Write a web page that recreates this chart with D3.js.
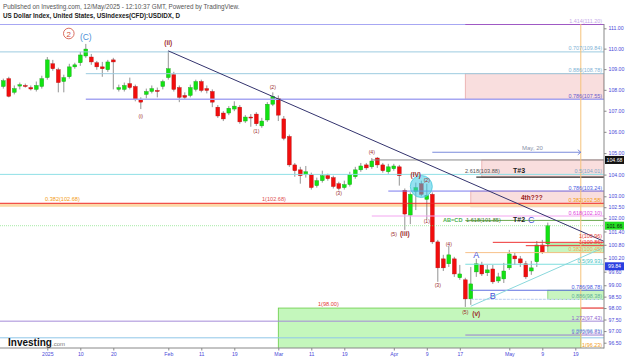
<!DOCTYPE html>
<html>
<head>
<meta charset="utf-8">
<script src="https://cdn.jsdelivr.net/npm/d3@7"></script>
<style>
body { margin: 0; background: #fff; }
svg { font-family: "Liberation Sans", Arial, sans-serif; }
</style>
</head>
<body>
<script>
// daily candles, USDIDX CFD
var candleDates = [
  "2024-12-19","2024-12-20","2024-12-23","2024-12-24","2024-12-26","2024-12-27","2024-12-30","2024-12-31",
  "2025-01-02","2025-01-03","2025-01-06","2025-01-07","2025-01-08","2025-01-09","2025-01-10","2025-01-13","2025-01-14","2025-01-15","2025-01-16","2025-01-17",
  "2025-01-20","2025-01-21","2025-01-22","2025-01-23","2025-01-24","2025-01-27","2025-01-28","2025-01-29","2025-01-30","2025-01-31",
  "2025-02-03","2025-02-04","2025-02-05","2025-02-06","2025-02-07","2025-02-10","2025-02-11","2025-02-12","2025-02-13","2025-02-14",
  "2025-02-17","2025-02-18","2025-02-19","2025-02-20","2025-02-21","2025-02-24","2025-02-25","2025-02-26","2025-02-27","2025-02-28",
  "2025-03-03","2025-03-04","2025-03-05","2025-03-06","2025-03-07","2025-03-10","2025-03-11","2025-03-12","2025-03-13","2025-03-14",
  "2025-03-17","2025-03-18","2025-03-19","2025-03-20","2025-03-21","2025-03-24","2025-03-25","2025-03-26","2025-03-27","2025-03-28","2025-03-31",
  "2025-04-01","2025-04-02","2025-04-03","2025-04-04","2025-04-07","2025-04-08","2025-04-09","2025-04-10","2025-04-11",
  "2025-04-14","2025-04-15","2025-04-16","2025-04-17","2025-04-21","2025-04-22","2025-04-23","2025-04-24","2025-04-25","2025-04-28","2025-04-29","2025-04-30",
  "2025-05-01","2025-05-02","2025-05-05","2025-05-06","2025-05-07","2025-05-08","2025-05-09","2025-05-12"
];
var futureDates = ["2025-05-13","2025-05-14","2025-05-15","2025-05-16","2025-05-19","2025-05-20","2025-05-21","2025-05-22","2025-05-23","2025-05-26","2025-05-27"];

var open = [
  108.16,108.54,107.88,108.18,108.21,108.11,108.02,108.16,
  108.59,109.26,108.97,108.40,108.63,109.11,109.31,109.64,109.59,109.31,109.11,108.97,
  109.45,108.02,108.02,108.30,108.16,107.55,107.78,107.92,107.97,108.16,
  108.59,108.73,108.11,107.73,107.73,108.02,108.40,108.06,107.92,107.17,
  106.89,106.89,107.08,107.17,106.51,106.70,106.84,106.28,106.56,107.31,
  107.59,106.61,105.78,104.45,104.22,104.00,104.00,103.49,103.72,103.95,
  103.86,103.58,103.40,103.54,103.90,104.22,104.45,104.36,104.77,104.45,104.13,
  104.27,104.36,103.27,102.14,103.22,103.58,102.86,103.09,100.93,
  100.17,99.95,100.17,99.33,99.24,98.40,99.59,99.90,99.55,99.72,99.19,99.28,
  99.77,100.30,100.17,99.95,99.63,100.04,100.79,100.84
];
var high = [
  108.54,108.63,108.21,108.35,108.30,108.21,108.40,108.68,
  109.59,109.45,109.07,108.73,109.26,109.31,109.84,110.23,109.74,109.40,109.35,109.45,
  109.55,108.25,108.35,108.59,108.25,107.64,108.06,108.21,108.11,108.49,
  109.89,108.87,108.21,107.88,108.25,108.49,108.49,108.21,108.02,107.27,
  106.98,107.22,107.45,107.27,106.79,106.84,106.93,106.66,107.41,107.88,
  107.73,106.75,105.87,104.54,104.36,104.40,104.09,103.86,104.18,104.04,
  103.95,103.67,103.72,104.13,104.36,104.54,104.54,104.77,104.82,104.54,104.50,
  104.50,104.45,103.36,103.18,103.63,103.72,103.58,103.18,101.02,
  100.35,100.75,100.26,99.90,99.33,99.81,100.17,100.04,99.90,99.90,99.55,99.99,
  100.57,100.44,100.30,100.08,100.08,100.97,101.02,101.80
];
var low = [
  108.06,107.64,107.78,108.02,108.11,107.97,107.92,108.06,
  108.49,108.92,107.88,107.88,108.54,109.02,109.16,109.55,109.21,108.97,108.63,108.87,
  108.02,107.92,107.92,108.02,107.45,107.08,107.59,107.83,107.64,108.02,
  108.49,107.92,107.41,107.55,107.64,107.92,107.88,107.83,107.17,106.66,
  106.51,106.79,106.98,106.38,106.42,106.24,106.28,106.19,106.47,107.22,
  106.51,105.60,104.36,103.90,103.58,103.86,103.31,103.40,103.63,103.72,
  103.36,103.27,103.31,103.45,103.81,104.13,104.22,104.27,104.31,104.09,104.04,
  104.18,103.49,101.47,101.73,102.37,103.00,101.96,100.84,99.15,
  99.63,99.81,99.37,99.24,98.05,98.14,99.37,99.41,99.41,99.06,99.10,99.10,
  99.68,99.90,99.81,99.28,99.46,99.81,100.39,100.70
];
var close = [
  108.44,107.69,108.06,108.25,108.17,108.04,108.21,108.54,
  109.45,109.02,108.35,108.59,109.11,109.21,109.69,109.98,109.35,109.11,109.02,109.35,
  109.35,108.11,108.21,108.11,107.55,107.41,107.92,108.06,107.92,108.40,
  109.02,108.02,107.64,107.64,108.11,108.40,107.97,107.97,107.41,106.75,
  106.61,107.12,107.22,106.47,106.70,106.66,106.38,106.51,107.31,107.69,
  106.79,105.69,104.45,104.18,103.95,104.13,103.40,103.72,103.95,103.81,
  103.45,103.36,103.54,104.00,104.22,104.40,104.31,104.63,104.45,104.18,104.36,
  104.40,103.95,102.19,103.09,103.40,103.09,103.04,100.93,99.77,
  99.77,100.35,99.50,99.50,98.40,99.06,99.95,99.50,99.68,99.15,99.37,99.63,
  100.39,100.17,99.99,99.37,99.77,100.79,100.48,101.66
];

var priceTicks = [111, 110, 109, 108, 107, 106, 105, 104, 103, 102.5, 102, 101.4, 100.8, 100.2, 99.6, 99, 98.5, 98, 97.5, 97, 96.5];
var dateTicks = ["2025-01-02","2025-01-10","2025-01-20","2025-02-03","2025-02-11","2025-02-19","2025-03-03","2025-03-11","2025-03-19","2025-04-01","2025-04-09","2025-04-17","2025-05-01","2025-05-09","2025-05-19"];
var dateTickLabels = ["2025","10","20","Feb","11","19","Mar","11","19","Apr","9","17","May","9","19"];

// drawn levels: price, start date (null = left edge), label
var levelPrices = [111.20, 109.84, 108.78, 107.55, 104.68, 104.01, 103.88, 103.24, 102.68, 102.10, 101.90, 100.91, 100.76, 100.45, 99.93, 98.78, 98.38, 98.00, 97.43, 96.83, 96.71];
var levelStarts = [null, null, "2025-01-13", "2025-01-13", "2025-03-26", null, "2025-04-23", "2025-03-31", null, "2025-03-26", "2025-04-21", "2025-04-28", "2025-05-06", "2025-04-21", "2025-04-21", "2025-04-22", "2025-04-22", "2025-05-20", null, "2025-04-21", null];
var levelLabels = ["1.414(111.20)", "0.707(109.84)", "0.886(108.78)", "0.786(107.55)", "", "0.5(104.01)", "", "0.786(103.24)", "0.382(102.58)", "0.618(102.10)", "", "1(100.96)", "1(100.86)", "0.382(100.45)", "0.5(99.93)", "0.786(98.78)", "0.886(98.38)", "", "1.272(97.43)", "1.272(96.83)", "0.886(96.71)"];

// zones: start date, end date (null = right edge), top price, bottom price
var zoneStarts = ["2025-04-21", "2025-04-24", "2025-04-22", "2025-05-12", "2025-05-12", "2025-03-03"];
var zoneEnds = [null, null, null, null, null, "2025-05-20"];
var zoneTops = [108.78, 104.68, 103.24, 100.84, 98.78, 98.00];
var zoneBottoms = [107.55, 103.88, 102.52, 100.45, 98.38, 95.0];

// trend lines: [date, price] pairs
var trendDown = [["2025-02-03", 109.89], ["2025-05-27", 100.87]];
var trendUp = [["2025-04-22", 98.08], ["2025-05-27", 100.77]];

// Elliott wave labels: text, date, price
var waveText = ["(ii)", "(i)", "(1)", "(2)", "(3)", "(4)", "(IV)", "(2)", "(1)", "(5)", "(iii)", "(3)", "(4)", "(5)", "(v)"];
var waveDates = ["2025-02-03", "2025-01-27", "2025-02-25", "2025-02-28", "2025-03-18", "2025-03-26", "2025-04-07", "2025-04-09", "2025-04-09", "2025-04-01", "2025-04-03", "2025-04-11", "2025-04-15", "2025-04-21", "2025-04-23"];
var wavePrices = [110.20, 106.64, 105.95, 108.03, 103.06, 104.98, 103.88, 103.66, 101.80, 101.20, 101.20, 98.92, 100.73, 97.73, 97.66];

var W = 625, H = 358;
var plotTop = 24, plotBottom = 348, plotRight = 604;

var allDates = candleDates.concat(futureDates);
var x = d3.scalePoint()
          .domain(allDates)
          .range([3.3, 3.3 + 5.5 * (allDates.length - 1)]);
var y = d3.scaleLog()
          .domain([96.5, 111])
          .range([342.7, 28.3]);

var svg = d3.select("body").append("svg")
            .attr("width", W)
            .attr("height", H);

svg.append("defs").append("clipPath").attr("id", "plot")
   .append("rect").attr("x", 0).attr("y", plotTop).attr("width", plotRight).attr("height", plotBottom - plotTop);

// header
svg.append("text").attr("x", 3).attr("y", 8.5)
   .style("font-size", "6.3px").style("fill", "#555")
   .text("Published on Investing.com, 12/May/2025 - 12:10:37 GMT, Powered by TradingView.");
svg.append("text").attr("x", 3).attr("y", 17.5)
   .style("font-size", "6.3px").style("font-weight", "bold").style("fill", "#222")
   .text("US Dollar Index, United States, USIndexes(CFD):USDIDX, D");

var g = svg.append("g").attr("clip-path", "url(#plot)");

function xs(d) { return d == null ? 0 : x(d); }
function xe(d) { return d == null ? plotRight : x(d); }

// zones
var zoneFill = ["#f9dede", "#f9dede", "#f9dede", "#c8f5c0", "#c8f5c0", "#c4f7bc"];
var zoneStroke = ["#e8a8a8", "#e8a8a8", "#e8a8a8", "#7fd36f", "#7fd36f", "#66cc44"];
zoneStarts.forEach(function(d, i) {
  g.append("rect")
   .attr("x", xs(d))
   .attr("y", y(zoneTops[i]))
   .attr("width", xe(zoneEnds[i]) - xs(d))
   .attr("height", y(zoneBottoms[i]) - y(zoneTops[i]))
   .style("fill", zoneFill[i])
   .style("stroke", zoneStroke[i])
   .style("stroke-width", 0.8);
});

// orange band under 1(102.68)
g.append("rect").attr("x", 0).attr("width", plotRight)
 .attr("y", y(102.68)).attr("height", y(102.52) - y(102.68))
 .style("fill", "#fcd9a8");

// candles
var idx = d3.range(candleDates.length);
g.selectAll(".wick").data(idx).enter().append("line")
 .attr("x1", function(i) { return x(candleDates[i]); })
 .attr("x2", function(i) { return x(candleDates[i]); })
 .attr("y1", function(i) { return y(high[i]); })
 .attr("y2", function(i) { return y(low[i]); })
 .style("stroke", "#777").style("stroke-width", 0.8);
g.selectAll(".body").data(idx).enter().append("rect")
 .attr("x", function(i) { return x(candleDates[i]) - 1.9; })
 .attr("width", 3.8)
 .attr("y", function(i) { return y(Math.max(open[i], close[i])); })
 .attr("height", function(i) { return Math.max(1, Math.abs(y(open[i]) - y(close[i]))); })
 .style("fill", function(i) { return close[i] >= open[i] ? "#12e312" : "#f20d0d"; })
 .style("stroke", function(i) { return close[i] >= open[i] ? "#18a018" : "#b01010"; })
 .style("stroke-width", 0.4);

// horizontal levels
var levelColor = ["#8a8af0", "#9ccbe0", "#9ccbe0", "#a6a6f2", "#8a8a8a", "#8fe0e6", "#333333", "#7a7aee", "#ee2a2a", "#f3a6f0", "#6aa84f", "#ee3333", "#ee3333", "#f8c28a", "#7fdede", "#5f6fe0", "#c8d8f4", "#e53935", "#a58ad8", "#9b7fd0", "#8fc6e8"];
var levelWidth = [1, 1, 1, 1.6, 1, 1, 1.3, 1, 1, 1, 1, 1, 1, 1, 1, 1.2, 1.2, 1.2, 1, 1, 1];
var labelColor = ["#c4a8e8", "#7fb3d5", "#7fb3d5", "#6a5acd", "", "#7fa7c8", "", "#4a5ae0", "#f39c12", "#e040e0", "", "#e53935", "#e53935", "#f5a45a", "#3fbfbf", "#4a5ae0", "#5fb09a", "", "#8e5fcf", "#8e5fcf", "#6fa8dc"];
// labels that sit just under their line instead of above it
var labelBelow = [11, 20];
levelPrices.forEach(function(p, i) {
  g.append("line")
   .attr("x1", xs(levelStarts[i])).attr("x2", plotRight)
   .attr("y1", y(p)).attr("y2", y(p))
   .style("stroke", levelColor[i])
   .style("stroke-width", levelWidth[i])
   .style("stroke-dasharray", i === 16 ? "3,1" : null);
  if (levelLabels[i]) {
    var below = labelBelow.indexOf(i) >= 0;
    svg.append("text")
       .attr("x", 602).attr("y", below ? y(p) - 4.8 : y(p) - 1.5)
       .style("text-anchor", "end").style("font-size", "5.4px")
       .style("fill", labelColor[i])
       .text(levelLabels[i]);
  }
});
// purple part of top level
g.append("line").attr("x1", x("2025-04-21")).attr("x2", plotRight)
 .attr("y1", y(111.20)).attr("y2", y(111.20))
 .style("stroke", "#9c3fb5").style("stroke-width", 1.2);

// current price line
g.append("line").attr("x1", 0).attr("x2", plotRight)
 .attr("y1", y(close[close.length - 1])).attr("y2", y(close[close.length - 1]))
 .style("stroke", "#7ee07e").style("stroke-width", 0.7).style("stroke-dasharray", "1,1");

// May 20 vertical and arrow
g.append("line").attr("x1", x("2025-05-20")).attr("x2", x("2025-05-20"))
 .attr("y1", plotTop).attr("y2", plotBottom)
 .style("stroke", "#f6c27a").style("stroke-width", 1);
g.append("line").attr("x1", x("2025-04-10")).attr("x2", x("2025-05-20"))
 .attr("y1", y(105.04)).attr("y2", y(105.04))
 .style("stroke", "#6b7fd7").style("stroke-width", 0.9);
g.append("path")
 .attr("d", "M" + (x("2025-05-20") - 3) + "," + (y(105.04) - 2.5) + "L" + x("2025-05-20") + "," + y(105.04) + "L" + (x("2025-05-20") - 3) + "," + (y(105.04) + 2.5))
 .style("fill", "none").style("stroke", "#6b7fd7").style("stroke-width", 0.9);
svg.append("text").attr("x", 522).attr("y", y(105.04) - 2.5)
   .style("font-size", "6px").style("fill", "#8890a8").text("May, 20");

// trend lines
var line = d3.line().x(function(d) { return x(d[0]); }).y(function(d) { return y(d[1]); });
g.append("path").attr("d", line(trendDown))
 .style("fill", "none").style("stroke", "#33336e").style("stroke-width", 1);
g.append("path").attr("d", line(trendUp))
 .style("fill", "none").style("stroke", "#8ad8dc").style("stroke-width", 1);

// highlight circle
g.append("circle").attr("cx", x("2025-04-08")).attr("cy", y(103.45)).attr("r", 11)
 .style("fill", "#3cc8e6").style("fill-opacity", 0.55)
 .style("stroke", "#48c8dc").style("stroke-width", 0.8);

// wave labels
waveText.forEach(function(t, i) {
  var big = (t === "(IV)" || t === "(iii)" || t === "(v)" || t === "(ii)");
  svg.append("text")
     .attr("x", x(waveDates[i])).attr("y", y(wavePrices[i]))
     .style("text-anchor", "middle")
     .style("font-size", big ? "6.5px" : "5.2px")
     .style("font-weight", big ? "bold" : "normal")
     .style("fill", "#9b2a2a")
     .text(t);
});

// other annotations
function note(t, xp, yp, size, color, weight, anchor) {
  svg.append("text").attr("x", xp).attr("y", yp)
     .style("font-size", size + "px").style("fill", color)
     .style("font-weight", weight || "normal")
     .style("text-anchor", anchor || "start")
     .text(t);
}
svg.append("circle").attr("cx", x("2025-01-08") - 0.5).attr("cy", 33.5).attr("r", 5.3)
   .style("fill", "none").style("stroke", "#d04a3a").style("stroke-width", 0.8);
note("2", x("2025-01-08") - 0.5, 36.5, 8, "#d04a3a", "normal", "middle");
note("(C)", x("2025-01-13"), y(110.23) - 4, 8.5, "#4d8fd6", "normal", "middle");
note("2.618(103.88)", 465, y(104.01) - 1, 5.6, "#555", "normal");
note("T#3", 513, y(104.01) - 1, 7, "#222", "bold");
note("4th???", 521, y(102.68) - 3, 6.5, "#9b2020", "bold");
note("1(102.68)", 262, y(102.68) - 2, 5.6, "#e05050", "normal");
note("0.382(102.68)", 45, y(102.68) - 2, 5.6, "#f39c12", "normal");
note("AB=CD", 443, y(101.90) + 1.5, 5.6, "#4caf50", "bold");
note("1.618(101.85)", 466, y(101.90) + 1.5, 5.6, "#3e7d2a", "normal");
note("T#2", 513, y(101.90) + 2, 7, "#222", "bold");
note("C", 528, y(101.90) + 2.5, 9, "#4a55d8", "normal");
note("A", x("2025-04-23"), y(100.20), 9, "#4a55d8", "normal", "middle");
note("B", x("2025-04-28"), y(98.40), 9, "#4a55d8", "normal", "middle");
note("1(98.00)", 318, y(98.00) - 2, 5.6, "#e53935", "normal");
note("1(96.23)", 582, 347, 5.4, "#f39c12", "normal");

// Investing.com logo
note("Investing", 8, 346, 10, "#111", "bold");
note(".com", 52, 346, 6, "#777", "normal");

// axes
var yAxis = svg.append("g")
   .attr("transform", "translate(" + plotRight + ",0)")
   .call(d3.axisRight(y).tickValues(priceTicks).tickFormat(d3.format(".2f")).tickSize(2.5).tickPadding(2));
yAxis.select(".domain").remove();
yAxis.selectAll("text").style("font-size", "5.2px").style("fill", "#4a4ad8");
yAxis.selectAll("line").style("stroke", "#888");
svg.append("line").attr("x1", plotRight).attr("x2", plotRight).attr("y1", plotTop).attr("y2", plotBottom + 0.5)
   .style("stroke", "#888").style("stroke-width", 1);

var xAxis = svg.append("g")
   .attr("transform", "translate(0," + plotBottom + ")")
   .call(d3.axisBottom(x).tickValues(dateTicks)
           .tickFormat(function(d) { return dateTickLabels[dateTicks.indexOf(d)]; })
           .tickSize(2.5).tickPadding(1.5));
xAxis.select(".domain").remove();
xAxis.selectAll("text").style("font-size", "5.2px").style("fill", "#4a4ad8");
xAxis.selectAll("line").style("stroke", "#888");
svg.append("line").attr("x1", 0).attr("x2", plotRight).attr("y1", plotBottom).attr("y2", plotBottom)
   .style("stroke", "#888").style("stroke-width", 1);

// price boxes on the axis
var boxPrices = [104.68, close[close.length - 1], 99.84];
var boxFill = ["#111", "#22e022", "#2a3ee0"];
var boxText = ["#fff", "#111", "#fff"];
boxPrices.forEach(function(p, i) {
  svg.append("rect").attr("x", 605).attr("y", y(p) - 4).attr("width", 19).attr("height", 8)
     .style("fill", boxFill[i]);
  svg.append("text").attr("x", 614.5).attr("y", y(p) + 2)
     .style("text-anchor", "middle").style("font-size", "5.2px").style("fill", boxText[i])
     .text(d3.format(".2f")(p));
});
</script>
</body>
</html>
